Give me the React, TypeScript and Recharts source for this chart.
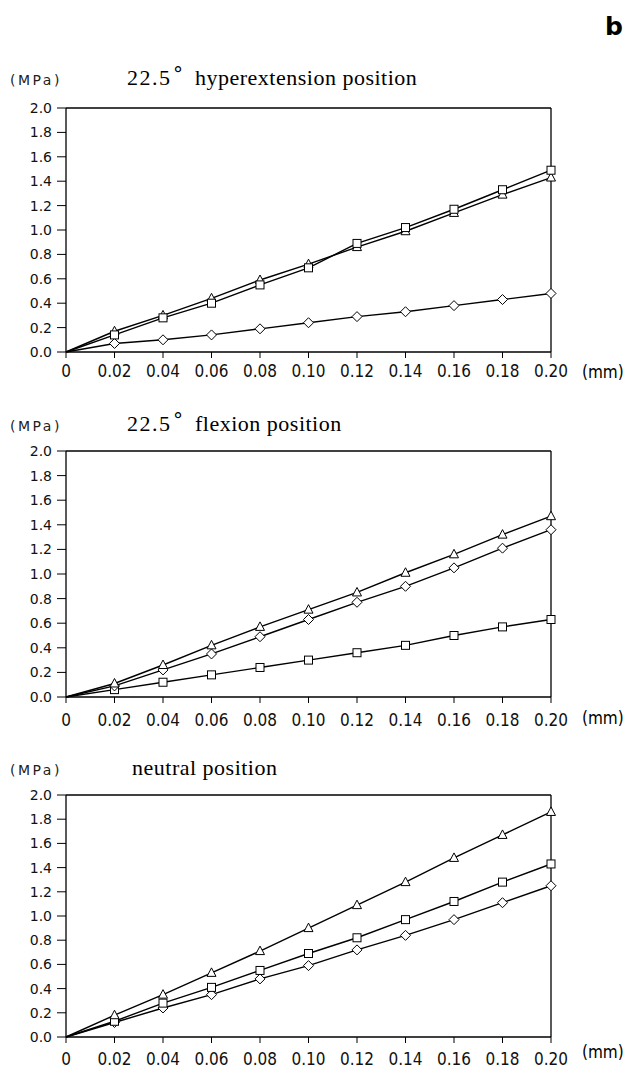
import { LineChart, Line, XAxis, YAxis, ReferenceLine } from 'recharts';

const xs = [0, 0.02, 0.04, 0.06, 0.08, 0.1, 0.12, 0.14, 0.16, 0.18, 0.2];
const xTicks = [0, 0.02, 0.04, 0.06, 0.08, 0.1, 0.12, 0.14, 0.16, 0.18, 0.2];
const yTicks = [0, 0.2, 0.4, 0.6, 0.8, 1.0, 1.2, 1.4, 1.6, 1.8, 2.0];

// 22.5° hyperextension
const hyperTriangle = [0, 0.17, 0.30, 0.44, 0.59, 0.72, 0.86, 0.99, 1.14, 1.29, 1.43];
const hyperSquare = [0, 0.14, 0.28, 0.40, 0.55, 0.69, 0.89, 1.02, 1.17, 1.33, 1.49];
const hyperDiamond = [0, 0.07, 0.10, 0.14, 0.19, 0.24, 0.29, 0.33, 0.38, 0.43, 0.48];

// 22.5° flexion
const flexTriangle = [0, 0.11, 0.26, 0.42, 0.57, 0.71, 0.85, 1.01, 1.16, 1.32, 1.47];
const flexSquare = [0, 0.06, 0.12, 0.18, 0.24, 0.30, 0.36, 0.42, 0.50, 0.57, 0.63];
const flexDiamond = [0, 0.09, 0.22, 0.35, 0.49, 0.63, 0.77, 0.90, 1.05, 1.21, 1.36];

// neutral
const neutTriangle = [0, 0.18, 0.35, 0.53, 0.71, 0.90, 1.09, 1.28, 1.48, 1.67, 1.86];
const neutSquare = [0, 0.13, 0.28, 0.41, 0.55, 0.69, 0.82, 0.97, 1.12, 1.28, 1.43];
const neutDiamond = [0, 0.12, 0.24, 0.35, 0.48, 0.59, 0.72, 0.84, 0.97, 1.11, 1.25];

const narrow = '"Liberation Sans Narrow", "DejaVu Sans Condensed", sans-serif';
const sans = '"DejaVu Sans", "Liberation Sans", sans-serif';
const serif = '"Liberation Serif", "Times New Roman", serif';

type Shape = 'triangle' | 'square' | 'diamond';

function marker(shape: Shape) {
  return (props: any) => {
    const { cx, cy, index } = props;
    const key = `${shape}-${index}`;
    if (index === 0 || cx == null || cy == null) return <g key={key} />;
    if (shape === 'square') {
      return <rect key={key} x={cx - 4} y={cy - 4} width={8} height={8} fill="#fff" stroke="#000" strokeWidth={1} />;
    }
    if (shape === 'triangle') {
      return (
        <polygon key={key} points={`${cx},${cy - 5} ${cx + 4.5},${cy + 3.5} ${cx - 4.5},${cy + 3.5}`}
          fill="#fff" stroke="#000" strokeWidth={1} />
      );
    }
    return (
      <polygon key={key} points={`${cx},${cy - 5} ${cx + 5},${cy} ${cx},${cy + 5} ${cx - 5},${cy}`}
        fill="#fff" stroke="#000" strokeWidth={1} />
    );
  };
}

function rows(tri: number[], sq: number[], dia: number[]) {
  return xs.map((x, i) => ({ x, tri: tri[i], sq: sq[i], dia: dia[i] }));
}

interface PanelProps {
  plotTop: number;
  plotBottom: number;
  labelMargin: number;
  data: { x: number; tri: number; sq: number; dia: number }[];
  // draw order: later series on top
  order: Shape[];
}

const keyOf: Record<Shape, string> = { triangle: 'tri', square: 'sq', diamond: 'dia' };

function Panel({ plotTop, plotBottom, labelMargin, data, order }: PanelProps) {
  const top = plotTop - 10;
  const height = plotBottom - plotTop + 70;
  return (
    <div style={{ position: 'absolute', left: 0, top }}>
      <LineChart width={635} height={height} data={data}
        margin={{ top: 10, right: 84, bottom: 20, left: 14 }}>
        <XAxis dataKey="x" type="number" domain={[0, 0.2]} ticks={xTicks}
          tickFormatter={(v: number) => (v === 0 ? '0' : v.toFixed(2))}
          tick={{ fontSize: 17, fill: '#111', fontFamily: narrow }}
          tickSize={6} tickMargin={labelMargin} height={40}
          axisLine={{ stroke: '#000', strokeWidth: 1.3 }} tickLine={{ stroke: '#000' }} />
        <YAxis type="number" domain={[0, 2]} ticks={yTicks} width={52}
          tickFormatter={(v: number) => v.toFixed(1)}
          tick={{ fontSize: 14, fill: '#111', fontFamily: sans }}
          tickSize={9} tickMargin={5}
          axisLine={{ stroke: '#000', strokeWidth: 1.3 }} tickLine={{ stroke: '#000' }} />
        <ReferenceLine y={2} stroke="#000" strokeWidth={1.3} />
        <ReferenceLine x={0.2} stroke="#000" strokeWidth={1.3} />
        {order.map((s) => (
          <Line key={s} dataKey={keyOf[s]} stroke="#000" strokeWidth={1.4}
            dot={marker(s)} isAnimationActive={false} />
        ))}
      </LineChart>
    </div>
  );
}

function Label({ x, y, children, style }: { x: number; y: number; children: any; style?: any }) {
  return (
    <div style={{ position: 'absolute', left: x, top: y, whiteSpace: 'nowrap', lineHeight: 1, ...style }}>
      {children}
    </div>
  );
}

// baseline: y of the title text baseline
function Title({ baseline, angle, text, x }: { baseline: number; angle: boolean; text: string; x: number }) {
  const top = baseline - 20;
  return (
    <>
      <Label x={10} y={baseline - 14} style={{ fontFamily: sans, fontSize: 14, letterSpacing: 2.5, color: '#222' }}>(MPa)</Label>
      {angle ? (
        <>
          <Label x={127} y={top} style={{ fontFamily: serif, fontSize: 22, letterSpacing: 1.5 }}>22.5</Label>
          <Label x={173} y={top - 3} style={{ fontFamily: sans, fontSize: 20 }}>°</Label>
        </>
      ) : null}
      <Label x={x} y={top} style={{ fontFamily: serif, fontSize: 22, letterSpacing: 0.5 }}>{text}</Label>
    </>
  );
}

export default function App() {
  return (
    <div style={{ position: 'absolute', left: 0, top: 0, width: 635, height: 1068, background: '#fff', overflow: 'hidden' }}>
      <Label x={605} y={14} style={{ fontFamily: sans, fontSize: 25, fontWeight: 'bold' }}>b</Label>

      <Title baseline={87} angle text="hyperextension position" x={195} />
      <Panel plotTop={108} plotBottom={352} labelMargin={7}
        data={rows(hyperTriangle, hyperSquare, hyperDiamond)} order={['diamond', 'triangle', 'square']} />
      <Label x={582} y={364} style={{ fontFamily: narrow, fontSize: 17 }}>(mm)</Label>

      <Title baseline={433} angle text="flexion position" x={195} />
      <Panel plotTop={451} plotBottom={697} labelMargin={11}
        data={rows(flexTriangle, flexSquare, flexDiamond)} order={['square', 'diamond', 'triangle']} />
      <Label x={582} y={710} style={{ fontFamily: narrow, fontSize: 17 }}>(mm)</Label>

      <Title baseline={777} angle={false} text="neutral position" x={132} />
      <Panel plotTop={795} plotBottom={1037} labelMargin={10}
        data={rows(neutTriangle, neutSquare, neutDiamond)} order={['diamond', 'square', 'triangle']} />
      <Label x={582} y={1044} style={{ fontFamily: narrow, fontSize: 17 }}>(mm)</Label>
    </div>
  );
}
